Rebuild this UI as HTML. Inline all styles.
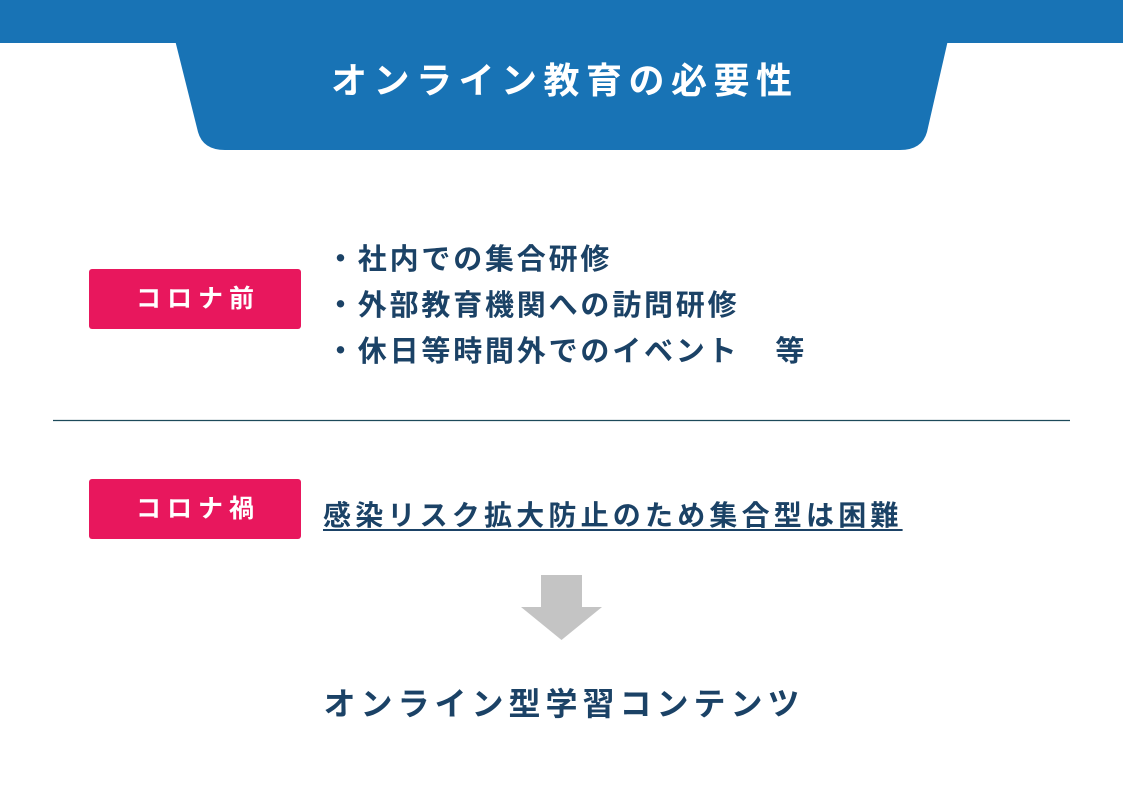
<!DOCTYPE html>
<html><head><meta charset="utf-8"><style>
body{margin:0;width:1123px;height:794px;background:#fff;position:relative;overflow:hidden;font-family:"Liberation Sans","Noto Sans CJK JP",sans-serif;font-weight:bold;color:#1b4266}
.t{position:absolute;white-space:nowrap}
.badge{position:absolute;left:89px;width:212px;height:60px;background:#e8175d;border-radius:3px;color:#fff;font-size:25px;line-height:60px;text-align:center;letter-spacing:6px;text-indent:6px}
</style></head><body>
<svg width="1123" height="794" style="position:absolute;left:0;top:0">
<rect x="0" y="0" width="1123" height="43" fill="#1873b5"/>
<path d="M175 40 L948 40 L927 132 Q922 150 900 150 L225 150 Q203 150 198 132 Z" fill="#1873b5"/>
<line x1="53" y1="420.5" x2="1070" y2="420.5" stroke="#1d4a5a" stroke-width="1.2"/>
<path d="M541 575 H582 V607 H602 L561.5 640 L521 607 H541 Z" fill="#c4c4c4"/>
</svg>
<div class="t" style="left:0;width:1123px;text-align:center;top:52px;font-size:36px;color:#fff;letter-spacing:6.5px;text-indent:6.5px">オンライン教育の必要性</div>
<div class="badge" style="top:269px">コロナ前</div>
<div class="badge" style="top:479px">コロナ禍</div>
<div class="t" style="left:326px;top:237px;font-size:29px;line-height:46px;letter-spacing:2.8px">・社内での集合研修<br>・外部教育機関への訪問研修<br>・休日等時間外でのイベント<span style="display:inline-block;width:36px"></span>等</div>
<div class="t" style="left:323px;top:494px;font-size:28px;text-decoration:underline;text-underline-offset:4px;letter-spacing:4.2px">感染リスク拡大防止のため集合型は困難</div>
<div class="t" style="left:0;width:1123px;text-align:center;top:679px;font-size:32px;letter-spacing:5px;text-indent:5px">オンライン型学習コンテンツ</div>
</body></html>
